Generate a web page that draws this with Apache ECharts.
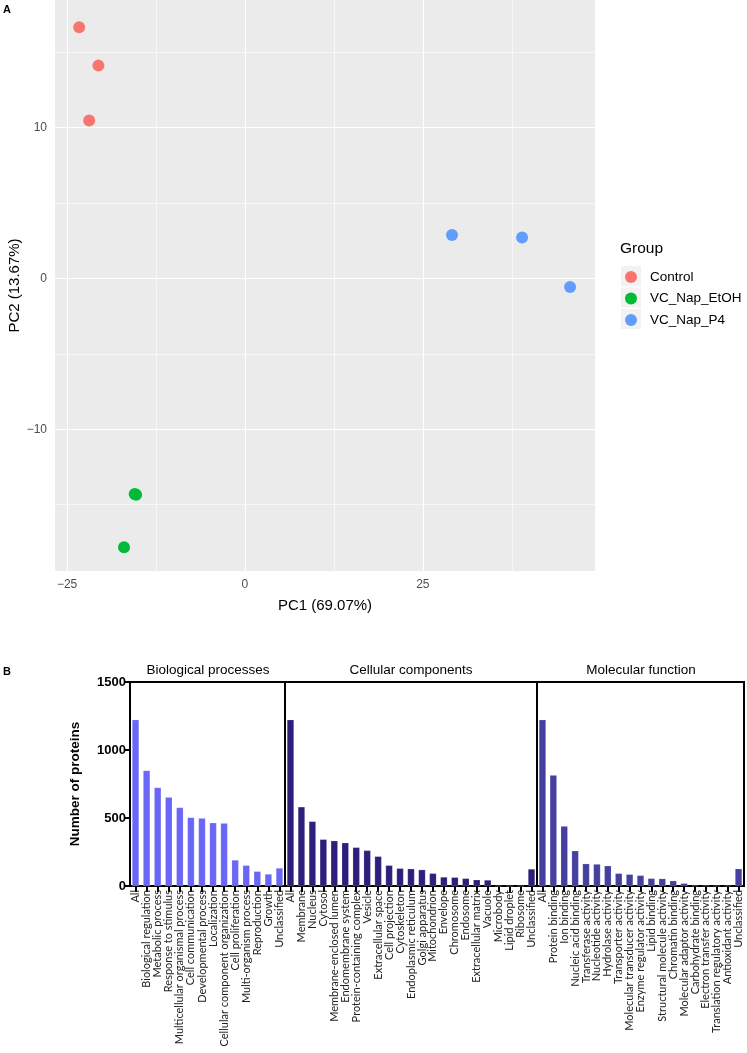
<!DOCTYPE html>
<html>
<head>
<meta charset="utf-8">
<script src="https://cdn.jsdelivr.net/npm/echarts@6/dist/echarts.min.js"></script>
<style>
  html, body { margin: 0; padding: 0; background: #fff; }
  #main { width: 747px; height: 1053px; }
</style>
</head>
<body>
<div id="main"></div>
<script>
// ---- panel A: PCA scores (PC1, PC2) ----
var pcControl = [[-23.3, 16.65], [-20.6, 14.1], [-21.9, 10.47]];
var pcEtOH = [[-15.5, -14.3], [-15.3, -14.35], [-17.0, -17.83]];
var pcP4 = [[29.1, 2.88], [38.95, 2.71], [45.7, -0.58]];
var pcXTicks = [-25, 0, 25];
var pcYTicks = [-10, 0, 10];
var pcXMinor = [-12.5, 12.5, 37.5];
var pcYMinor = [-15, -5, 5, 15];

// ---- panel B: GO categories ----
var bpNames = ['All', 'Biological regulation', 'Metabolic process', 'Response to stimulus',
  'Multicellular organismal process', 'Cell communication', 'Developmental process', 'Localization',
  'Cellular component organization', 'Cell proliferation', 'Multi-organism process', 'Reproduction',
  'Growth', 'Unclassified'];
var bpValues = [1223, 849, 724, 653, 577, 504, 499, 465, 462, 191, 152, 108, 88, 132];

var ccNames = ['All', 'Membrane', 'Nucleus', 'Cytosol', 'Membrane-enclosed lumen', 'Endomembrane system',
  'Protein-containing complex', 'Vesicle', 'Extracellular space', 'Cell projection', 'Cytoskeleton',
  'Endoplasmic reticulum', 'Golgi apparatus', 'Mitochondrion', 'Envelope', 'Chromosome', 'Endosome',
  'Extracellular matrix', 'Vacuole', 'Microbody', 'Lipid droplet', 'Ribosome', 'Unclassified'];
var ccValues = [1223, 582, 475, 343, 333, 318, 284, 262, 218, 152, 130, 127, 120, 93, 66, 64, 56,
  46, 44, 0, 0, 0, 125];

var mfNames = ['All', 'Protein binding', 'Ion binding', 'Nucleic acid binding', 'Transferase activity',
  'Nucleotide activity', 'Hydrolase activity', 'Transporter activity', 'Molecular transducer activity',
  'Enzyme regulator activity', 'Lipid binding', 'Structural molecule activity', 'Chromatin binding',
  'Molecular adaptor activity', 'Carbohydrate binding', 'Electron transfer activity',
  'Translation regulatory activity', 'Antioxidant activity', 'Unclassified'];
var mfValues = [1223, 815, 440, 259, 164, 161, 149, 93, 86, 78, 56, 54, 39, 20, 4, 2, 1, 1, 127];

var chart = echarts.init(document.getElementById('main'), null, { renderer: 'canvas' });

var SANS = '"Liberation Sans", Arial, sans-serif';
var LABEL = 'Lato, "Open Sans", sans-serif';

// grid lines of the ggplot panel
var gridLines = [];
pcXTicks.forEach(function (v) { gridLines.push({ xAxis: v, lineStyle: { width: 1.1 } }); });
pcYTicks.forEach(function (v) { gridLines.push({ yAxis: v, lineStyle: { width: 1.1 } }); });
pcXMinor.forEach(function (v) { gridLines.push({ xAxis: v, lineStyle: { width: 0.6 } }); });
pcYMinor.forEach(function (v) { gridLines.push({ yAxis: v, lineStyle: { width: 0.6 } }); });

function minusSign(v) {
  return String(v).replace('-', '\u2212');
}

function catAxis(idx, names) {
  return {
    type: 'category',
    gridIndex: idx,
    data: names,
    axisLine: { show: true, lineStyle: { color: '#000', width: 2 } },
    axisTick: { show: true, alignWithLabel: true, length: 6, lineStyle: { color: '#000', width: 2 } },
    axisLabel: { interval: 0, rotate: 90, margin: 4, fontSize: 11, color: '#222', fontFamily: LABEL }
  };
}

function barAxisY(idx, visible) {
  return {
    type: 'value',
    gridIndex: idx,
    min: 0,
    max: 1500,
    interval: 500,
    show: visible,
    splitLine: { show: false },
    axisLine: { show: true, lineStyle: { color: '#000', width: 2 } },
    axisTick: { show: true, length: 5, lineStyle: { color: '#000', width: 2 } },
    axisLabel: {
      fontSize: 13, fontWeight: 'bold', color: '#000', fontFamily: SANS, margin: 4,
      formatter: function (v) { return String(v); }
    },
    name: visible ? 'Number of proteins' : '',
    nameLocation: 'middle',
    nameGap: 48,
    nameTextStyle: { fontSize: 13.5, fontWeight: 'bold', color: '#000', fontFamily: SANS }
  };
}

function barSeries(idx, values, color) {
  return {
    type: 'bar',
    xAxisIndex: idx,
    yAxisIndex: idx,
    data: values,
    barWidth: 7,
    itemStyle: { color: color, borderColor: 'rgba(255,255,255,0.35)', borderWidth: 0.5 },
    silent: true
  };
}

var option = {
  animation: false,
  backgroundColor: '#fff',
  grid: [
    { left: 55, top: 0, width: 540, height: 571, show: true, backgroundColor: '#EBEBEB', borderWidth: 0, outerBoundsMode: 'none', containLabel: false },
    { left: 130, top: 682, width: 155, height: 204, show: true, borderColor: '#000', borderWidth: 2, outerBoundsMode: 'none' },
    { left: 285, top: 682, width: 252, height: 204, show: true, borderColor: '#000', borderWidth: 2, outerBoundsMode: 'none' },
    { left: 537, top: 682, width: 207, height: 204, show: true, borderColor: '#000', borderWidth: 2, outerBoundsMode: 'none' }
  ],
  xAxis: [
    {
      type: 'value',
      gridIndex: 0,
      min: -26.7,
      max: 49.2,
      axisLine: { show: true, lineStyle: { color: 'rgba(0,0,0,0)' } },
      splitLine: { show: false },
      axisTick: { show: true, customValues: pcXTicks, length: 4, lineStyle: { color: '#333', width: 1 } },
      axisLabel: { customValues: pcXTicks, color: '#4D4D4D', fontSize: 12, fontFamily: SANS, margin: 8, formatter: minusSign },
      name: 'PC1 (69.07%)',
      nameLocation: 'middle',
      nameGap: 27,
      nameMoveOverlap: false,
      nameTextStyle: { fontSize: 15, color: '#000', fontFamily: SANS }
    },
    catAxis(1, bpNames),
    catAxis(2, ccNames),
    catAxis(3, mfNames)
  ],
  yAxis: [
    {
      type: 'value',
      gridIndex: 0,
      min: -19.4,
      max: 18.45,
      axisLine: { show: true, lineStyle: { color: 'rgba(0,0,0,0)' } },
      splitLine: { show: false },
      axisTick: { show: true, customValues: pcYTicks, length: 4, lineStyle: { color: '#333', width: 1 } },
      axisLabel: { customValues: pcYTicks, color: '#4D4D4D', fontSize: 12, fontFamily: SANS, margin: 8, formatter: minusSign },
      name: 'PC2 (13.67%)',
      nameLocation: 'middle',
      nameGap: 33,
      nameMoveOverlap: false,
      nameTextStyle: { fontSize: 15, color: '#000', fontFamily: SANS }
    },
    barAxisY(1, true),
    barAxisY(2, false),
    barAxisY(3, false)
  ],
  legend: {
    data: ['Control', 'VC_Nap_EtOH', 'VC_Nap_P4'],
    orient: 'vertical',
    left: 625,
    top: 270,
    padding: 0,
    icon: 'circle',
    itemWidth: 12,
    itemHeight: 12,
    itemGap: 7.5,
    selectedMode: false,
    textStyle: { fontSize: 13.5, color: '#000', fontFamily: SANS, lineHeight: 14, padding: [0, 0, 0, 8] }
  },
  graphic: [
    { type: 'text', x: 3, y: 4, style: { text: 'A', font: 'bold 11px ' + SANS, fill: '#000' } },
    { type: 'text', x: 3, y: 666, style: { text: 'B', font: 'bold 11px ' + SANS, fill: '#000' } },
    { type: 'text', x: 620, y: 241, style: { text: 'Group', font: '15.5px ' + SANS, fill: '#000' } },
    { type: 'rect', shape: { x: 621, y: 266, width: 20, height: 20 }, style: { fill: '#F2F2F2' }, z: -1 },
    { type: 'rect', shape: { x: 621, y: 287.5, width: 20, height: 20 }, style: { fill: '#F2F2F2' }, z: -1 },
    { type: 'rect', shape: { x: 621, y: 309, width: 20, height: 20 }, style: { fill: '#F2F2F2' }, z: -1 },
    { type: 'text', x: 208, y: 670, style: { text: 'Biological processes', font: '13.5px ' + SANS, fill: '#000', textAlign: 'center', textVerticalAlign: 'middle' } },
    { type: 'text', x: 411, y: 670, style: { text: 'Cellular components', font: '13.5px ' + SANS, fill: '#000', textAlign: 'center', textVerticalAlign: 'middle' } },
    { type: 'text', x: 641, y: 670, style: { text: 'Molecular function', font: '13.5px ' + SANS, fill: '#000', textAlign: 'center', textVerticalAlign: 'middle' } }
  ],
  series: [
    {
      type: 'scatter',
      name: 'grid',
      xAxisIndex: 0,
      yAxisIndex: 0,
      data: [],
      z: 1,
      silent: true,
      markLine: {
        silent: true,
        symbol: ['none', 'none'],
        label: { show: false },
        lineStyle: { color: '#FFFFFF', type: 'solid' },
        data: gridLines
      }
    },
    { type: 'scatter', name: 'Control', xAxisIndex: 0, yAxisIndex: 0, data: pcControl, symbolSize: 12, z: 3, itemStyle: { color: '#F8766D', opacity: 1 } },
    { type: 'scatter', name: 'VC_Nap_EtOH', xAxisIndex: 0, yAxisIndex: 0, data: pcEtOH, symbolSize: 12, z: 3, itemStyle: { color: '#00BA38', opacity: 1 } },
    { type: 'scatter', name: 'VC_Nap_P4', xAxisIndex: 0, yAxisIndex: 0, data: pcP4, symbolSize: 12, z: 3, itemStyle: { color: '#619CFF', opacity: 1 } },
    barSeries(1, bpValues, '#6A66F6'),
    barSeries(2, ccValues, '#2E1F7D'),
    barSeries(3, mfValues, '#453FA0')
  ]
};

chart.setOption(option);
</script>
</body>
</html>
